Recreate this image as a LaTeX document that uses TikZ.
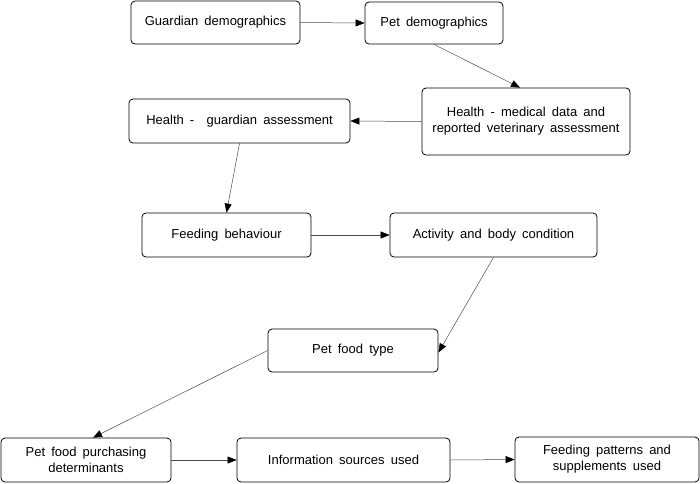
\documentclass[tikz,border=0pt]{standalone}
\usepackage{fontspec}
\setmainfont{Liberation Sans}[WordSpace=1.7]
\usetikzlibrary{arrows.meta}
\begin{document}
\begin{tikzpicture}[x=1pt,y=-1pt,
  box/.style={draw=black,line width=0.8pt,rounded corners=4pt,fill=white,
    align=center,inner sep=0pt,font=\fontsize{13}{16}\selectfont},
  conn/.style={draw=black!70,line width=0.5pt,
    -{Triangle[length=9pt,width=7pt,fill=black,color=black]}}]
\useasboundingbox (0,0) rectangle (700,483);
\node[box,minimum width=169pt,minimum height=43pt] (gd) at (215.5,22.5) {Guardian demographics};
\node[box,minimum width=138pt,minimum height=42pt] (pd) at (434,23) {Pet demographics};
\node[box,minimum width=208pt,minimum height=67pt] (hm) at (526,121.5) {Health - medical data and\\reported veterinary assessment};
\node[box,minimum width=221pt,minimum height=44pt] (hg) at (239.5,121) {Health -\ \ guardian assessment};
\node[box,minimum width=169pt,minimum height=44pt] (fb) at (226.5,235) {Feeding behaviour};
\node[box,minimum width=207pt,minimum height=44pt] (ac) at (493.5,235) {Activity and body condition};
\node[box,minimum width=170pt,minimum height=43pt] (pft) at (353,350.5) {Pet food type};
\node[box,minimum width=170pt,minimum height=44pt] (pfpd) at (86,460) {Pet food purchasing\\determinants};
\node[box,minimum width=213pt,minimum height=44pt] (is) at (343.5,460) {Information sources used};
\node[box,minimum width=184pt,minimum height=45pt] (fp) at (607,459.5) {Feeding patterns and\\supplements used};
\draw[conn] (gd.east) -- (pd.west);
\draw[conn] (pd.south) -- ([xshift=-6pt]hm.north);
\draw[conn] (hm.west) -- (hg.east);
\draw[conn] (hg.south) -- (fb.north);
\draw[conn] (fb.east) -- (ac.west);
\draw[conn] (ac.south) -- ([yshift=-2pt]pft.east);
\draw[conn] (pft.west) -- ([xshift=7pt]pfpd.north);
\draw[conn] (pfpd.east) -- (is.west);
\draw[conn] (is.east) -- (fp.west);
\end{tikzpicture}
\end{document}
